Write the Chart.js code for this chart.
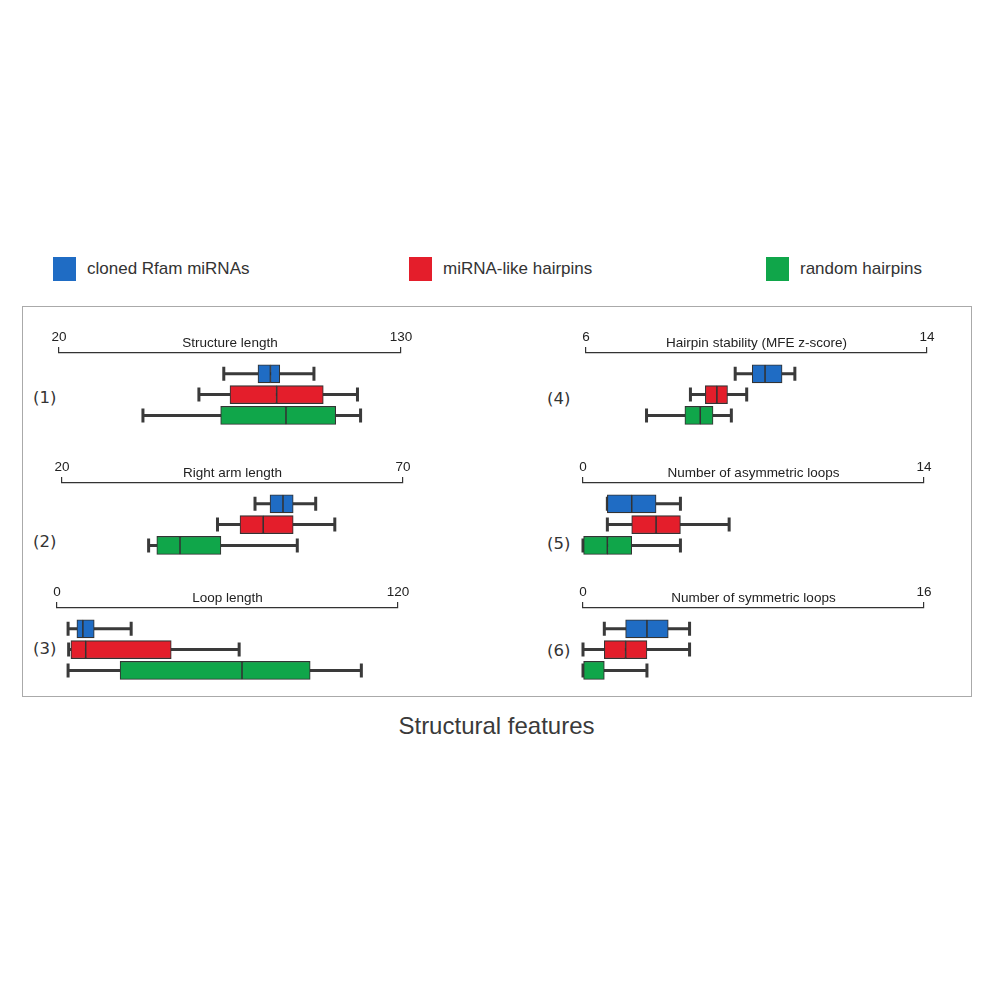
<!DOCTYPE html>
<html>
<head>
<meta charset="utf-8">
<title>Structural features</title>
<script src="https://cdn.jsdelivr.net/npm/chart.js@4.4.1/dist/chart.umd.min.js"></script>
<style>
  body { margin: 0; background: #fff; }
  #page { position: relative; width: 1000px; height: 1000px; font-family: "Liberation Sans", Arial, sans-serif; color: #333; }
  .frame { position: absolute; left: 22px; top: 306px; width: 948px; height: 389px; border: 1px solid #aaa; }
  .swatch { position: absolute; top: 257px; width: 23px; height: 24px; }
  .legtext { position: absolute; top: 260px; font-size: 17px; line-height: 17px; color: #333; white-space: nowrap; }
  .plabel { position: absolute; font-family: "DejaVu Sans", sans-serif; font-size: 16.5px; line-height: 16px; color: #333; }
  .panel { position: absolute; }
  #title { position: absolute; left: 0; width: 993px; top: 714px; text-align: center; font-size: 24px; line-height: 24px; color: #3a3a3a; }
</style>
</head>
<body>
<div id="page">
  <div class="frame"></div>
  <div id="title">Structural features</div>
</div>
<script>
// --- DATA ---
const groups = ['cloned Rfam miRNAs', 'miRNA-like hairpins', 'random hairpins'];
const features = ['Structure length', 'Right arm length', 'Loop length',
                  'Hairpin stability (MFE z-score)', 'Number of asymmetric loops', 'Number of symmetric loops'];
const panelTags = ['(1)', '(2)', '(3)', '(4)', '(5)', '(6)'];
const axisMin = [20, 20, 0, 6, 0, 0];
const axisMax = [130, 70, 120, 14, 14, 16];

// each row: [min, q1, median, q3, max] for cloned / miRNA-like / random
const structureLength = [[73, 84, 88, 91, 102], [65, 75, 90, 105, 116], [47, 72, 93, 109, 117]];
const rightArmLength  = [[48.3, 50.5, 52.4, 53.9, 57.2], [42.8, 46.1, 49.5, 53.9, 60], [32.7, 33.9, 37.3, 43.3, 54.5]];
const loopLength      = [[3.9, 7, 9.1, 13.1, 26.1], [4.1, 4.9, 10.1, 40.2, 64.1], [3.9, 22.2, 65.1, 89.1, 107.1]];
const hairpinStability = [[9.5, 9.9, 10.2, 10.6, 10.9], [8.45, 8.8, 9.07, 9.32, 9.77], [7.42, 8.32, 8.68, 8.98, 9.41]];
const asymLoops = [[1, 1, 2, 3, 4], [1, 2, 3, 4, 6], [0, 0, 1, 2, 4]];
const symLoops  = [[1, 2, 3, 4, 5], [0, 1, 2, 3, 5], [0, 0, 0, 1, 3]];

const allStats = [structureLength, rightArmLength, loopLength, hairpinStability, asymLoops, symLoops];

// --- STYLE / LAYOUT ---
const colors = ['#1f6cc4', '#e41e2b', '#10a64a'];
const ink = '#333';
const legendX = [53, 409, 766];
// axis start/end pixel, axis line y, tag position
const layout = [
  { x0: 59,  x1: 401, y: 350.5, tx: 33,  ty: 390 },
  { x0: 62,  x1: 403, y: 480.5, tx: 33,  ty: 534 },
  { x0: 57,  x1: 398, y: 605.5, tx: 33,  ty: 641 },
  { x0: 586, x1: 927, y: 350.5, tx: 547, ty: 391 },
  { x0: 583, x1: 924, y: 480.5, tx: 547, ty: 536 },
  { x0: 583, x1: 924, y: 605.5, tx: 547, ty: 643 }
];
const PAD_X = 30, ABOVE = 40, AXIS_H = 24.2, BELOW = 83;

const page = document.getElementById('page');

// legend
groups.forEach((g, i) => {
  const sw = document.createElement('div');
  sw.className = 'swatch';
  sw.style.left = legendX[i] + 'px';
  sw.style.background = colors[i];
  page.appendChild(sw);
  const t = document.createElement('div');
  t.className = 'legtext';
  t.style.left = (legendX[i] + 34) + 'px';
  t.textContent = g;
  page.appendChild(t);
});

// whiskers drawn behind the boxes, from the chart's own scales
const whiskerPlugin = {
  id: 'whiskers',
  beforeDatasetsDraw(chart, args, opts) {
    const { ctx, scales: { x, y } } = chart;
    ctx.save();
    ctx.strokeStyle = '#3a3a3a';
    ctx.lineWidth = 3;
    ctx.lineCap = 'butt';
    opts.stats.forEach((s, k) => {
      const py = y.getPixelForValue(k);
      const xa = x.getPixelForValue(s[0]);
      const xb = x.getPixelForValue(s[4]);
      ctx.beginPath();
      ctx.moveTo(xa, py); ctx.lineTo(xb, py);
      ctx.moveTo(xa, py - 7); ctx.lineTo(xa, py + 7);
      ctx.moveTo(xb, py - 7); ctx.lineTo(xb, py + 7);
      ctx.stroke();
    });
    ctx.restore();
  }
};

// feature name in the middle of the top bracket
const axisTitlePlugin = {
  id: 'axisTitle',
  afterDraw(chart, args, opts) {
    const { ctx, chartArea } = chart;
    ctx.save();
    ctx.fillStyle = '#222';
    ctx.font = '13.5px "Liberation Sans", Arial, sans-serif';
    ctx.textAlign = 'center';
    ctx.textBaseline = 'alphabetic';
    ctx.fillText(opts.text, (chartArea.left + chartArea.right) / 2, chartArea.top - 6);
    ctx.restore();
  }
};

function makePanel(i) {
  const lay = layout[i];
  const stats = allStats[i];
  const lo = axisMin[i], hi = axisMax[i];

  const tag = document.createElement('div');
  tag.className = 'plabel';
  tag.style.left = lay.tx + 'px';
  tag.style.top = lay.ty + 'px';
  tag.textContent = panelTags[i];
  page.appendChild(tag);

  const wrap = document.createElement('div');
  wrap.className = 'panel';
  const w = lay.x1 - lay.x0 + 2 * PAD_X;
  const h = ABOVE + BELOW;
  wrap.style.left = (lay.x0 - PAD_X) + 'px';
  wrap.style.top = (lay.y - ABOVE) + 'px';
  const canvas = document.createElement('canvas');
  canvas.width = w;
  canvas.height = h;
  wrap.appendChild(canvas);
  page.appendChild(wrap);

  const half = (a, b) => ({
    data: stats.map((s, k) => ({ y: k, x: [s[a], s[b]] })),
    backgroundColor: colors,
    borderColor: ink,
    borderWidth: 1.1,
    borderSkipped: false,
    barThickness: 18,
    grouped: false
  });

  new Chart(canvas, {
    type: 'bar',
    data: { datasets: [half(1, 2), half(2, 3)] },
    options: {
      responsive: false,
      animation: false,
      indexAxis: 'y',
      layout: { padding: { left: PAD_X, right: PAD_X, top: ABOVE - AXIS_H, bottom: 4 } },
      scales: {
        x: {
          type: 'linear',
          position: 'top',
          min: lo,
          max: hi,
          afterBuildTicks: s => { s.ticks = [{ value: lo }, { value: hi }]; },
          grid: { drawOnChartArea: false, tickLength: 6, color: ink, lineWidth: 1.2 },
          border: { display: true, color: ink, width: 1.2 },
          ticks: {
            color: '#222',
            padding: 2,
            maxRotation: 0,
            autoSkip: false,
            font: { size: 13.5, family: '"Liberation Sans", Arial, sans-serif' }
          }
        },
        y: { type: 'linear', reverse: true, offset: false, min: -1, max: 2.7, display: false }
      },
      plugins: {
        legend: { display: false },
        tooltip: { enabled: false },
        whiskers: { stats: stats },
        axisTitle: { text: features[i] }
      }
    },
    plugins: [whiskerPlugin, axisTitlePlugin]
  });
}

features.forEach((f, i) => makePanel(i));
</script>
</body>
</html>
